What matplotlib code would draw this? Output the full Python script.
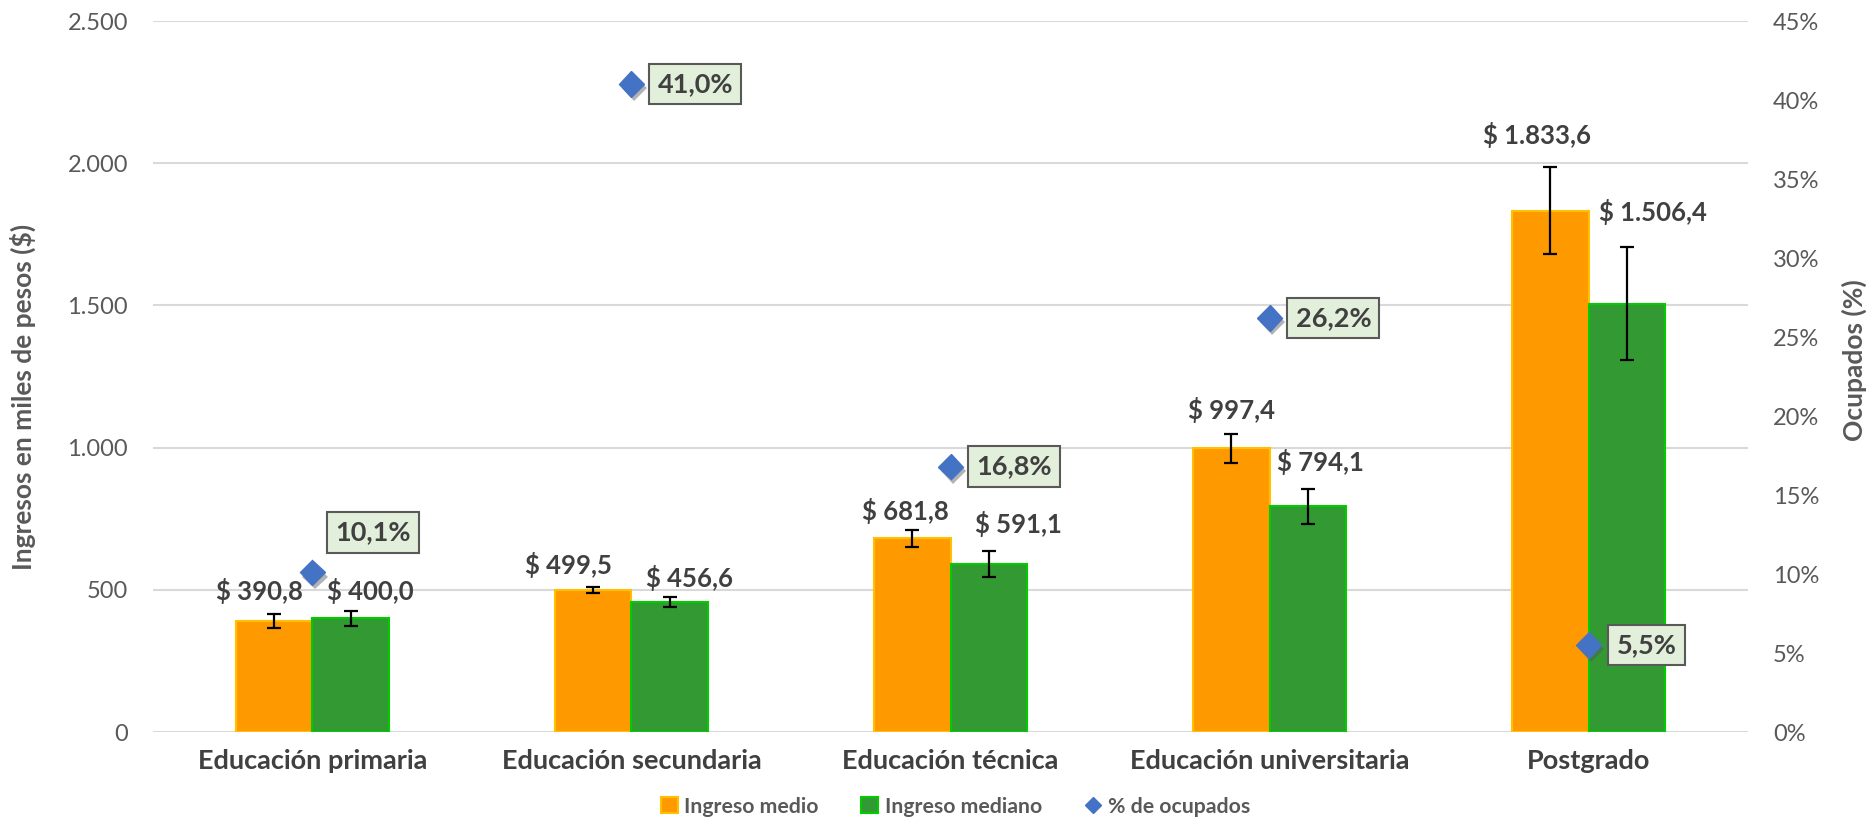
import numpy as np
import matplotlib
matplotlib.use("Agg")
import matplotlib.pyplot as plt
import matplotlib.patheffects as pe
from matplotlib.lines import Line2D
from matplotlib.patches import Patch

plt.rcParams['font.family'] = ['Lato', 'DejaVu Sans']

# datos
categorias = ['Educación primaria', 'Educación secundaria', 'Educación técnica',
              'Educación universitaria', 'Postgrado']
ingreso_medio = [390.8, 499.5, 681.8, 997.4, 1833.6]
ingreso_mediano = [400.0, 456.6, 591.1, 794.1, 1506.4]
err_medio = [25, 10, 30, 51, 153]
err_mediano = [26, 18, 45, 61, 198]
ocupados = [10.1, 41.0, 16.8, 26.2, 5.5]

# desplazamientos de las etiquetas (pixeles)
off_medio = [(-15, 21), (-25, 16), (-7, 18), (0, 29), (-13, 67)]
off_mediano = [(20, 18), (20, 15), (30, 31), (13, 35), (26, 83)]
off_pct = [(23, 40), (26, 0), (26, 0), (26, 0), (28, 0)]

naranja = '#FF9900'
verde = '#339933'
azul = '#4472C4'
gris_txt = '#404040'
gris_eje = '#595959'


def fmt_pesos(v):
    s = f'{v:,.1f}'.replace(',', 'X').replace('.', ',').replace('X', '.')
    return '$ ' + s


fig = plt.figure(figsize=(18.7, 8.21), dpi=100)
ax = fig.add_axes([0.0818, 0.1084, 0.853, 0.866])
ax2 = ax.twinx()

x = np.arange(len(categorias))
w = 0.24

ax.bar(x - w/2, ingreso_medio, w, color=naranja, edgecolor='#FFC000', linewidth=1.5, zorder=3)
ax.bar(x + w/2, ingreso_mediano, w, color=verde, edgecolor='#00CC00', linewidth=1.5, zorder=3)
ax.errorbar(x - w/2, ingreso_medio, yerr=err_medio, fmt='none', ecolor='black',
            elinewidth=1.6, capsize=5, capthick=1.6, zorder=4)
ax.errorbar(x + w/2, ingreso_mediano, yerr=err_mediano, fmt='none', ecolor='black',
            elinewidth=1.6, capsize=5, capthick=1.6, zorder=4)

for i in range(len(x)):
    ax.annotate(fmt_pesos(ingreso_medio[i]), (x[i] - w/2, ingreso_medio[i]),
                xytext=off_medio[i], textcoords='offset pixels', ha='center', va='baseline',
                fontsize=18.5, fontweight='bold', color=gris_txt, zorder=5)
    ax.annotate(fmt_pesos(ingreso_mediano[i]), (x[i] + w/2, ingreso_mediano[i]),
                xytext=off_mediano[i], textcoords='offset pixels', ha='center', va='baseline',
                fontsize=18.5, fontweight='bold', color=gris_txt, zorder=5)

ax.set_ylim(0, 2500)
ax.set_yticks(np.arange(0, 2501, 500))
ax.set_yticklabels(['0', '500', '1.000', '1.500', '2.000', '2.500'])
ax.set_xlim(-0.5, len(categorias) - 0.5)
ax.set_xticks(x)
ax.set_xticklabels(categorias, fontsize=19.5, fontweight='bold', color=gris_txt)
ax.grid(axis='y', color='#D9D9D9', linewidth=1.5, zorder=0)
ax.set_axisbelow(True)
ax.tick_params(axis='y', length=0, pad=18, labelsize=17, labelcolor=gris_eje)
ax.tick_params(axis='x', length=0, pad=12)
for s in ax.spines.values():
    s.set_visible(False)
ax.set_ylabel('Ingresos en miles de pesos ($)', fontsize=19, fontweight='bold',
              color=gris_eje)
ax.yaxis.set_label_coords(-0.0734, 0.471)

ax2.plot(x, ocupados, linestyle='none', marker='D', markersize=13, color=azul,
         markeredgecolor=azul, zorder=6,
         path_effects=[pe.SimplePatchShadow(offset=(2, -3), shadow_rgbFace='#555555', alpha=0.45),
                       pe.Normal()])
for i in range(len(x)):
    ax2.annotate(f'{ocupados[i]:.1f}%'.replace('.', ','), (x[i], ocupados[i]),
                 xytext=off_pct[i], textcoords='offset pixels', ha='left', va='center',
                 fontsize=19.5, fontweight='bold', color=gris_txt, zorder=7,
                 bbox=dict(boxstyle='square,pad=0.3', facecolor='#E2EFDA',
                           edgecolor='#595959', linewidth=1.5))
ax2.set_ylim(0, 45)
ax2.set_yticks(np.arange(0, 46, 5))
ax2.set_yticklabels([f'{v}%' for v in range(0, 46, 5)])
ax2.tick_params(axis='y', length=0, pad=18, labelsize=17, labelcolor=gris_eje)
for s in ax2.spines.values():
    s.set_visible(False)
ax2.set_ylabel('Ocupados (%)', fontsize=19, fontweight='bold', color=gris_eje)
ax2.yaxis.set_label_coords(1.0585, 0.523)

handles = [Patch(facecolor=naranja, edgecolor='#FFC000', linewidth=1.5, label='Ingreso medio'),
           Patch(facecolor=verde, edgecolor='#00CC00', linewidth=1.5, label='Ingreso mediano'),
           Line2D([], [], linestyle='none', marker='D', markersize=8, color=azul,
                  label='% de ocupados')]
leg = fig.legend(handles=handles, loc='lower center', bbox_to_anchor=(0.511, -0.018),
                 ncol=3, frameon=False, handlelength=0.8, handleheight=0.8,
                 handletextpad=0.3, columnspacing=2.0,
                 prop={'family': 'Lato', 'weight': 'bold', 'size': 15.3})
for t in leg.get_texts():
    t.set_color(gris_eje)

fig.savefig('out.png', dpi=100)
